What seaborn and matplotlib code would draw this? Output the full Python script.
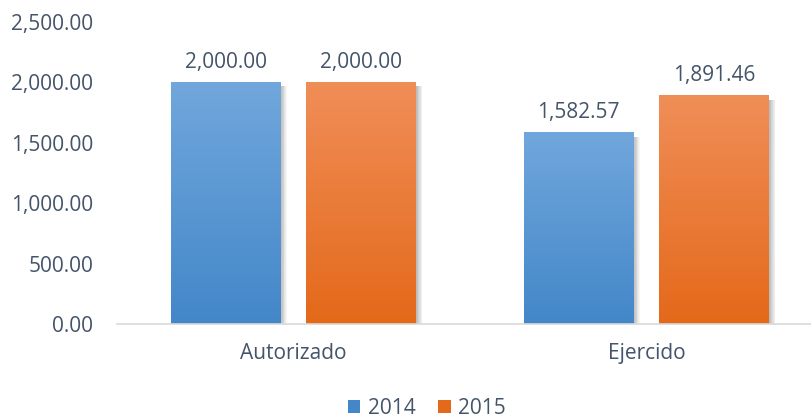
import numpy as np
import pandas as pd
import matplotlib
matplotlib.use("Agg")
import matplotlib.pyplot as plt
import seaborn as sns
from matplotlib.patches import Rectangle, Patch
from matplotlib.colors import LinearSegmentedColormap

categories = ["Autorizado", "Ejercido"]
years = ["2014", "2015"]
values_2014 = [2000.00, 1582.57]
values_2015 = [2000.00, 1891.46]
yticks = [0, 500, 1000, 1500, 2000, 2500]

df = pd.DataFrame({
    "categoria": categories * 2,
    "anio": [years[0]] * 2 + [years[1]] * 2,
    "valor": values_2014 + values_2015,
})

sns.set_theme(style="white")
plt.rcParams["font.family"] = ["Open Sans", "DejaVu Sans"]
text_color = "#44546A"
fs = 15
palette = {"2014": "#5B9BD5", "2015": "#ED7D31"}
grad = {
    "2014": ("#71A7DC", "#4387C9"),
    "2015": ("#F08E58", "#E4691A"),
}

W, H = 812, 418
fig = plt.figure(figsize=(W / 100, H / 100), dpi=100)
ax_left, ax_right = 117 / W, 812 / W
ax_bottom, ax_top = (H - 324) / H, (H - 22) / H
ax = fig.add_axes([ax_left, ax_bottom, ax_right - ax_left, ax_top - ax_bottom])

sns.barplot(data=df, x="categoria", y="valor", hue="anio", order=categories,
            hue_order=years, palette=palette, width=0.768, gap=0.19,
            legend=False, ax=ax, saturation=1)

xlim = (-0.5, 1.5 - 11 / 353)
ylim = (0, 2500)
px_x = 1 / 353
px_y = 2500 / 302

for year, cont in zip(years, ax.containers):
    top_c, bot_c = grad[year]
    cmap = LinearSegmentedColormap.from_list("g" + year, [bot_c, top_c])
    for bar in cont.patches:
        x0 = bar.get_x()
        w = bar.get_width()
        h = bar.get_height()
        bar.set_visible(False)
        # soft shadow
        for i in range(1, 10):
            sh = Rectangle((x0 + (i * 0.8 - 1) * px_x, -3 * px_y), w, h - 1 * px_y,
                           facecolor="black", edgecolor="none",
                           alpha=0.035, zorder=1.5)
            ax.add_patch(sh)
        g = np.linspace(0, 1, 256).reshape(-1, 1)
        ax.imshow(g, extent=(x0, x0 + w, 0, h), origin="lower", cmap=cmap,
                  aspect="auto", zorder=2.1, interpolation="bilinear")
        ax.annotate(f"{h:,.2f}", (x0 + w / 2, h), xytext=(0, 7),
                    textcoords="offset points", ha="center", va="bottom",
                    fontsize=fs, color=text_color)

ax.set_xlim(*xlim)
ax.set_ylim(*ylim)
ax.set_yticks(yticks)
ax.set_yticklabels([f"{v:,.2f}" for v in yticks])
ax.set_xlabel("")
ax.set_ylabel("")
ax.tick_params(axis="y", length=0, pad=17, labelsize=fs, labelcolor=text_color)
ax.tick_params(axis="x", length=0, pad=14, labelsize=fs, labelcolor=text_color)
for s in ["left", "right", "top"]:
    ax.spines[s].set_visible(False)
ax.spines["bottom"].set_color("#D9D9D9")
ax.spines["bottom"].set_linewidth(1.2)
ax.spines["bottom"].set_zorder(3)

handles = [Patch(facecolor=grad[y][1], edgecolor="none", label=y) for y in years]
fig.legend(handles=handles, loc="center", bbox_to_anchor=(427 / W, 1 - 408 / H),
           ncol=2, frameon=False, fontsize=fs, labelcolor=text_color,
           handlelength=0.6, handleheight=0.6, handletextpad=0.35,
           columnspacing=1.1)

fig.savefig("out.png", dpi=100)
